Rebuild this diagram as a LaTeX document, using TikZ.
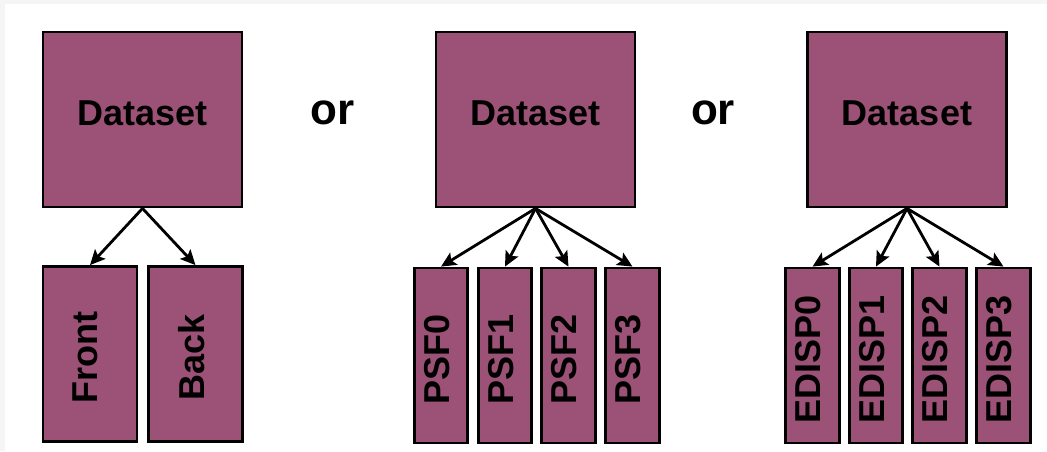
\documentclass[tikz,border=0pt]{standalone}
\usepackage{graphicx}
\usepackage{fontspec}
\setmainfont{Liberation Sans}
\usepackage{xcolor}
\usetikzlibrary{arrows.meta}
\definecolor{plum}{HTML}{9B5276}
\newcommand{\vlab}[1]{\rotatebox{90}{\raisebox{0pt}[\height][9pt]{#1\hspace{7pt}}}}

\begin{document}
\begin{tikzpicture}[x=1pt, y=-1pt,
  dsbox/.style={draw, fill=plum, line width=2.8pt, minimum width=199pt, minimum height=175pt,
                text depth=12pt, font=\fontsize{36}{40}\selectfont\bfseries},
  part/.style={draw, fill=plum, line width=2.8pt, minimum height=175pt, inner sep=0pt,
               font=\fontsize{36}{40}\selectfont\bfseries},
  arr/.style={-{Stealth[length=15pt, width=14pt, inset=3pt]}, line width=2.8pt},
  lab/.style={font=\fontsize{44}{48}\selectfont\bfseries}
]
\useasboundingbox (0,0) rectangle (1047,451);
\fill[gray!8] (0,0) rectangle (1047,451);
\fill[white] (5,4) rectangle (1047,451);

% --- first choice: front / back ---
\node[dsbox] (dsA) at (142.5,119.5) {Dataset};
\node[part, minimum width=94pt]   (front) at (90,354)  {\vlab{Front}};
\node[part, minimum width=94pt]   (back)  at (195.5,354) {\vlab{Back}};

\node[lab] (orA) at (332.5,113) {or};

% --- second choice: PSF classes ---
\node[dsbox] (dsB) at (535.5,119.5) {Dataset};
\node[part, minimum width=53.5pt] (psf0) at (441,355.5)   {\vlab{PSF0}};
\node[part, minimum width=53.5pt] (psf1) at (505,355.5)   {\vlab{PSF1}};
\node[part, minimum width=53.5pt] (psf2) at (568.5,355.5) {\vlab{PSF2}};
\node[part, minimum width=53.5pt] (psf3) at (632.5,355.5) {\vlab{PSF3}};

\node[lab] (orB) at (713,113) {or};

% --- third choice: EDISP classes ---
\node[dsbox] (dsC) at (907,119.5) {Dataset};
\node[part, minimum width=53.5pt] (ed0) at (812.5,355.5)  {\vlab{EDISP0}};
\node[part, minimum width=53.5pt] (ed1) at (876,355.5)    {\vlab{EDISP1}};
\node[part, minimum width=53.5pt] (ed2) at (939.5,355.5)  {\vlab{EDISP2}};
\node[part, minimum width=53.5pt] (ed3) at (1003.5,355.5) {\vlab{EDISP3}};

% --- arrows ---
\draw[arr] (dsA.south) -- (front.north);
\draw[arr] (dsA.south) -- (back.north);
\draw[arr] (dsB.south) -- (psf0.north);
\draw[arr] (dsB.south) -- (psf1.north);
\draw[arr] (dsB.south) -- (psf2.north);
\draw[arr] (dsB.south) -- (psf3.north);
\draw[arr] (dsC.south) -- (ed0.north);
\draw[arr] (dsC.south) -- (ed1.north);
\draw[arr] (dsC.south) -- (ed2.north);
\draw[arr] (dsC.south) -- (ed3.north);

\end{tikzpicture}
\end{document}
